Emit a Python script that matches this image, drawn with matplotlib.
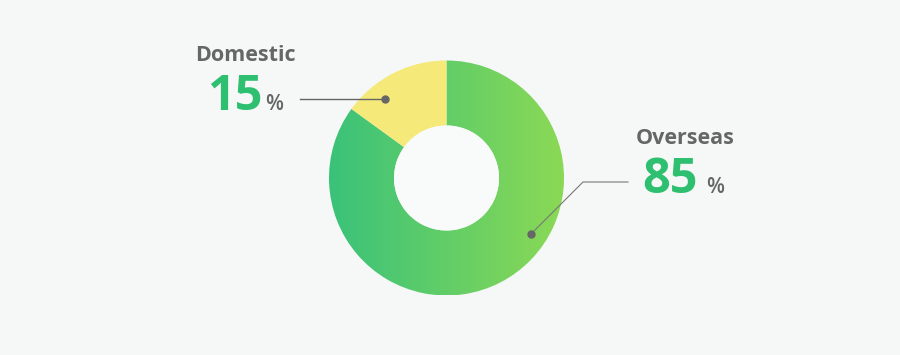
import numpy as np
import matplotlib.pyplot as plt
from matplotlib.patches import Wedge
from matplotlib.colors import LinearSegmentedColormap

labels = ['Domestic', 'Overseas']
shares = [15, 85]

bg = '#f6f8f8'
green_cmap = LinearSegmentedColormap.from_list('g', ['#3ac27a', '#8bd955'])
yellow = '#f5e97a'
text_gray = '#666666'
num_green = '#2fbf71'

fig = plt.figure(figsize=(9, 3.55), dpi=100)
fig.patch.set_facecolor(bg)
ax = fig.add_axes([0, 0, 1, 1])
ax.set_xlim(0, 900)
ax.set_ylim(355, 0)
ax.axis('off')

cx, cy, r_out, r_in = 446.5, 178, 117.5, 52.5

# start at 12 o'clock, domestic goes counterclockwise on screen
# (y axis inverted, so that is clockwise in data terms)
total = sum(shares)
start = -90.0
wedges = []
for lab, s in zip(labels, shares):
    span = 360.0 * s / total
    w = Wedge((cx, cy), r_out, start - span, start, width=r_out - r_in,
              linewidth=0)
    wedges.append((lab, w, start - span, start))
    start -= span

# domestic -> yellow
ax.add_patch(Wedge((cx, cy), r_out, wedges[0][2], wedges[0][3],
                   width=r_out - r_in, facecolor=yellow, linewidth=0))

# overseas -> horizontal gradient
w = wedges[1][1]
w.set_facecolor('none')
ax.add_patch(w)
grad = np.linspace(0, 1, 256).reshape(1, -1)
im = ax.imshow(grad, cmap=green_cmap, aspect='auto',
               extent=[cx - r_out, cx + r_out, cy + r_out, cy - r_out],
               interpolation='bilinear')
im.set_clip_path(w)
ax.set_xlim(0, 900)
ax.set_ylim(355, 0)

# hole
ax.add_patch(plt.Circle((cx, cy), r_in, color='#f9fafa', linewidth=0))

# leader lines
ax.plot([300, 385], [99, 99], color='#666666', lw=1)
ax.plot(385, 99, 'o', color='#666666', ms=5)
ax.plot([531, 583, 628], [234, 182, 182], color='#777777', lw=0.8)
ax.plot(531, 234, 'o', color='#666666', ms=5)

font = ['Open Sans', 'DejaVu Sans']
ax.text(245.5, 61, labels[0], ha='center', va='baseline', fontsize=15.5,
        fontweight='bold', color=text_gray, family=font)
ax.text(263, 110, f'{shares[0]}', ha='right', va='baseline', fontsize=35,
        fontweight='bold', color=num_green, family=font)
ax.text(265, 110, '%', ha='left', va='baseline', fontsize=15,
        fontweight='semibold', color=text_gray, family=font)

ax.text(685, 144, labels[1], ha='center', va='baseline', fontsize=15.5,
        fontweight='bold', color=text_gray, family=font)
ax.text(698, 193, f'{shares[1]}', ha='right', va='baseline', fontsize=35,
        fontweight='bold', color=num_green, family=font)
ax.text(706, 193, '%', ha='left', va='baseline', fontsize=15,
        fontweight='semibold', color=text_gray, family=font)

fig.savefig('out.png', dpi=100, facecolor=bg)
